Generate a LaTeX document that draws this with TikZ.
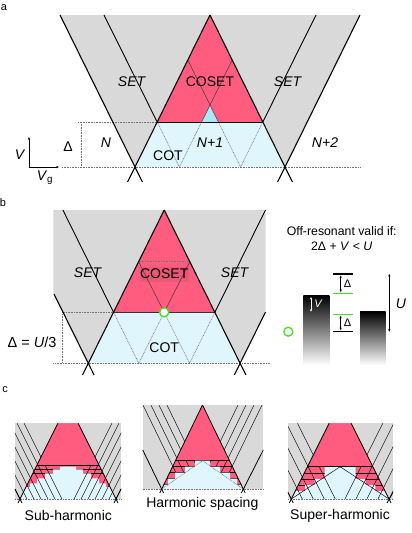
\documentclass[tikz,border=0pt]{standalone}
\usepackage{fontspec}
\setmainfont{Liberation Sans}
\usetikzlibrary{arrows.meta}
\definecolor{cosetred}{RGB}{255,92,128}
\definecolor{cotblue}{RGB}{223,246,253}
\definecolor{tipblue}{RGB}{170,232,248}
\definecolor{setgray}{RGB}{217,217,217}
\definecolor{levgreen}{RGB}{70,225,30}
\begin{document}
\begin{tikzpicture}[x=1pt,y=-1pt,
    lbl/.style={font=\fontsize{14}{16}\selectfont, inner sep=0pt},
    paneltag/.style={font=\fontsize{11}{12}\selectfont, inner sep=0pt},
    smalllbl/.style={font=\fontsize{11}{12}\selectfont, inner sep=0pt},
    bound/.style={line width=1.1pt},
    setline/.style={line width=0.9pt},
    fine/.style={line width=0.45pt, black!80},
    dotline/.style={line width=0.6pt, black!55, dash pattern=on 0.8pt off 0.8pt},
    minibound/.style={line width=0.8pt},
    minifam/.style={line width=0.45pt},
    dbl/.style={{Stealth[length=2.5pt,width=2.2pt]}-{Stealth[length=2.5pt,width=2.2pt]}, line width=0.45pt},
    ring/.style={draw=levgreen, line width=1.3pt, fill=white}
  ]
  \useasboundingbox (0,0) rectangle (412,533);

  % panel a
  \node[paneltag] (taga) at (4,8) {a};
  \coordinate (aA) at (210,15);
  \coordinate (aL) at (135,167);
  \coordinate (aR) at (285,167);
  \coordinate (aP) at (157.2,122);
  \coordinate (aQ) at (262.8,122);
  \fill[setgray] (60,15) -- (360,15) -- (aR) -- (aL) -- cycle;
  \fill[cosetred] (aP) -- (aQ) -- (aA) -- cycle;
  \fill[cotblue] (aL) -- (aR) -- (aQ) -- (aP) -- cycle;
  \fill[tipblue] (201.6,122) -- (218.4,122) -- (210,105) -- cycle;
  \draw[fine] (187.8,60) -- (218.4,122);
  \draw[fine] (232.2,60) -- (201.6,122);
  \draw[dotline] (aP) -- (179.4,167) -- (201.6,122);
  \draw[dotline] (218.4,122) -- (240.6,167) -- (aQ);
  \draw[dotline] (78,122) -- (aP);
  \draw[dotline] (81.7,122) -- (81.7,167);
  \draw[dotline] (62,167) -- (360,167);
  \draw[setline] (aP) -- (aQ);
  \draw[setline] (104,15) -- (aP);
  \draw[setline] (316,15) -- (aQ);
  \draw[bound] (60,15) -- (142.4,182);
  \draw[bound] (360,15) -- (277.6,182);
  \draw[bound] (aA) -- (127.6,182);
  \draw[bound] (aA) -- (292.4,182);
  \coordinate (ax0) at (29,167);
  \draw[-{Stealth[length=3pt,width=2.4pt]}, line width=0.5pt] (ax0) -- (29,137);
  \draw[-{Stealth[length=3pt,width=2.4pt]}, line width=0.5pt] (ax0) -- (59,167);
  \node[lbl] (axV) at (20,155) {\textit{V}};
  \node[lbl] (axVg) at (45,178) {\textit{V}\textsubscript{g}};
  \node[lbl] (deltaa) at (68,147) {Δ};
  \node[lbl] (setaL) at (132,82) {\textit{SET}};
  \node[lbl] (setaR) at (288,82) {\textit{SET}};
  \node[lbl] (coseta) at (210,82) {COSET};
  \node[lbl] (Na) at (106,143) {\textit{N}};
  \node[lbl] (N1a) at (210,143) {\textit{N+1}};
  \node[lbl] (N2a) at (325,143) {\textit{N+2}};
  \node[lbl] (cota) at (168,156) {COT};

  % panel b
  \node[paneltag] (tagb) at (3,203) {b};
  \coordinate (bA) at (164.2,210);
  \coordinate (bL) at (88.3,363.3);
  \coordinate (bR) at (240.1,363.3);
  \coordinate (bP) at (113.55,312.3);
  \coordinate (bQ) at (214.85,312.3);
  \coordinate (bM) at (164.2,312.3);
  \fill[setgray] (53.3,210) -- (265.7,210) -- (265.7,312.3) -- (bR) -- (bL) -- (53.3,294) -- cycle;
  \fill[cosetred] (bP) -- (bQ) -- (bA) -- cycle;
  \fill[cotblue] (bL) -- (bR) -- (bQ) -- (bP) -- cycle;
  \fill[cosetred!93!black] (140,266.5) rectangle (188.5,282);
  \draw[fine] (138.6,261.7) -- (bM);
  \draw[fine] (189.8,261.7) -- (bM);
  \draw[dotline] (138.6,261.7) -- (189.8,261.7);
  \draw[dotline] (bP) -- (138.8,363.3) -- (bM) -- (189.6,363.3) -- (bQ);
  \draw[dotline] (62.7,312.3) -- (bP);
  \draw[dotline] (62.7,312.3) -- (62.7,363.3);
  \draw[dotline] (53.3,363.3) -- (270,363.3);
  \draw[setline, black!80] (bP) -- (bQ);
  \draw[setline] (62.9,210) -- (bP);
  \draw[setline] (265.5,210) -- (bQ);
  \draw[bound] (54,294) -- (94.1,375);
  \draw[bound] (265.4,312.3) -- (234.3,375);
  \draw[bound] (bA) -- (82.5,375);
  \draw[bound] (bA) -- (245.9,375);
  \draw[ring] (bM) circle (4.5pt);
  \node[lbl] (setbL) at (88,273) {\textit{SET}};
  \node[lbl] (setbR) at (235,273) {\textit{SET}};
  \node[lbl] (cosetb) at (164.2,274) {COSET};
  \node[lbl] (cotb) at (164.2,348) {COT};
  \node[lbl, font=\fontsize{14.5}{16}\selectfont] (deltab) at (32,342) {Δ = \textit{U}/3};
  \node[lbl, font=\fontsize{12.3}{14}\selectfont] (offres) at (341.7,230.7) {Off-resonant valid if:};
  \node[lbl, font=\fontsize{12.3}{14}\selectfont] (cond) at (341.7,246.7) {2Δ + \textit{V} < \textit{U}};

  % energy levels
  \draw[ring] (288.3,331.7) circle (4.5pt);
  \shade[top color=black, bottom color=white] (303.3,295) rectangle (329.3,365);
  \shade[top color=black, bottom color=white] (360,311.7) rectangle (385.7,365);
  \coordinate (lev1) at (333.3,274);
  \coordinate (lev2) at (333.3,293.3);
  \coordinate (lev3) at (333.3,314.3);
  \coordinate (lev4) at (333.3,331.7);
  \draw[line width=1.3pt] (lev1) -- ++(20,0);
  \draw[levgreen, line width=1.1pt] (lev2) -- ++(20,0);
  \draw[levgreen, line width=1.1pt] (lev3) -- ++(20,0);
  \draw[line width=1.3pt] (lev4) -- ++(20,0);
  \draw[dbl] (340.7,275.5) -- (340.7,292);
  \draw[dbl] (340.7,315.8) -- (340.7,330.2);
  \node[smalllbl] (delta1) at (347.5,284) {Δ};
  \node[smalllbl] (delta2) at (347.5,323) {Δ};
  \draw[dbl, white] (311,297) -- (311,311.7);
  \node[smalllbl, white] (vbar) at (318.5,303.3) {\textit{V}};
  \draw[dbl] (389.3,274) -- (389.3,331.7);
  \node[lbl] (ulbl) at (401,303.3) {\textit{U}};

  % panel c
  \node[paneltag] (tagc) at (5,390) {c};

  % sub-harmonic
  \fill[setgray] (15,423.3) rectangle (121,499);
  \fill[cosetred] (20,499) -- (116,499) -- (78.15,423.3) -- (57.85,423.3) -- cycle;
  \foreach \y in {465,469.3,473.3}
    \draw[minifam] ({20+(499-\y)*0.5},\y) -- ({116-(499-\y)*0.5},\y);
  \fill[cotblue] (20,499) -- (26,487) -- (30,487) -- (30,483.3) -- (37,483.3) -- (37,478.3) -- (45,478.3) -- (45,473.3) -- (53,473.3) -- (53,469.3) -- (60,469.3) -- (60,466.7) -- (76,466.7) -- (76,469.3) -- (83,469.3) -- (83,473.3) -- (91,473.3) -- (91,478.3) -- (99,478.3) -- (99,483.3) -- (106,483.3) -- (106,487) -- (110,487) -- (116,499) -- cycle;
  \begin{scope}
    \clip (15,423.3) rectangle (121,499);
    \foreach \x in {-17.9,-10.9,-3.9,3.1,10.1,17.1,24.1} {
      \draw[minifam] (\x,423.3) -- ++(37.85,75.7);
      \draw[minifam] ({136-\x},423.3) -- ++(-37.85,75.7);
    }
  \end{scope}
  \fill[cosetred] (37,465) -- (99,465) -- (78.15,423.3) -- (57.85,423.3) -- cycle;
  \draw[minifam] (37,465) -- (99,465);
  \draw[dotline] (15,499) -- (121,499);
  \draw[minibound] (57.85,423.3) -- (18,503);
  \draw[minibound] (78.15,423.3) -- (118,503);
  \draw[minibound] (15,489) -- (22,503);
  \draw[minibound] (121,489) -- (114,503);
  \node[lbl] (subh) at (68.3,515.7) {Sub-harmonic};

  % harmonic spacing
  \fill[setgray] (142.7,405) rectangle (263.3,489);
  \fill[cosetred] (161.7,489) -- (243.3,489) -- (202.5,405) -- cycle;
  \begin{scope}
    \clip (142.7,405) rectangle (263.3,489);
    \foreach \x in {143,151,159,167} {
      \draw[minifam] (\x,405) -- ++(42.5,87.5);
      \draw[minifam] ({405-\x},405) -- ++(-42.5,87.5);
    }
  \end{scope}
  \fill[cosetred] (175.4,460.7) -- (229.6,460.7) -- (202.5,405) -- cycle;
  \foreach \y in {460.7,466.7,472.7,478.7,484.7}
    \draw[minifam] ({161.7+(489-\y)*0.4857},\y) -- ({243.3-(489-\y)*0.4857},\y);
  \fill[cotblue] (161.7,489) -- (163.8,484.7) -- (168,484.7) -- (168,478.7) -- (175,478.7) -- (175,472.7) -- (185,472.7) -- (185,466.7) -- (195,466.7) -- (195,460.7) -- (210,460.7) -- (210,466.7) -- (220,466.7) -- (220,472.7) -- (230,472.7) -- (230,478.7) -- (237,478.7) -- (237,484.7) -- (241.2,484.7) -- (243.3,489) -- cycle;
  \draw[dotline] (161.7,489) -- (202.5,460.7) -- (243.3,489);
  \draw[dotline] (142.7,489) -- (263.3,489);
  \draw[minibound] (202.5,405) -- (159.8,493);
  \draw[minibound] (202.5,405) -- (245.2,493);
  \draw[minibound] (142.7,449.9) -- (163.6,493);
  \draw[minibound] (263.3,449.9) -- (241.4,493);
  \node[lbl] (harm) at (202.3,504) {Harmonic spacing};

  % super-harmonic
  \fill[setgray] (288,423.3) rectangle (393,499);
  \fill[cosetred] (291.3,499) -- (389,499) -- (351.15,423.3) -- (329.15,423.3) -- cycle;
  \foreach \y in {466.7,473,479,485}
    \draw[minifam] ({291.3+(499-\y)*0.5},\y) -- ({389-(499-\y)*0.5},\y);
  \fill[cotblue] (291.3,499) -- (295.3,491) -- (305,491) -- (305,485) -- (314.7,485) -- (314.7,479) -- (324.7,479) -- (324.7,466.7) -- (355.6,466.7) -- (355.6,479) -- (365.6,479) -- (365.6,485) -- (375.3,485) -- (375.3,491) -- (385,491) -- (389,499) -- cycle;
  \begin{scope}
    \clip (288,423.3) rectangle (393,499);
    \foreach \x in {253.45,264.5,275.5,286.5,297.5} {
      \draw[minifam] (\x,423.3) -- ++(37.85,75.7);
      \draw[minifam] ({680.3-\x},423.3) -- ++(-37.85,75.7);
    }
    \draw[minifam] (291.3,499) -- (340.15,466.7) -- (389,499);
  \end{scope}
  \fill[cosetred] (307.45,466.7) -- (372.85,466.7) -- (351.15,423.3) -- (329.15,423.3) -- cycle;
  \draw[minifam] (307.45,466.7) -- (372.85,466.7);
  \fill (340.15,466.7) circle (0.9pt);
  \draw[dotline] (288,499) -- (393,499);
  \draw[minibound] (329.15,423.3) -- (289.3,503);
  \draw[minibound] (351.15,423.3) -- (391,503);
  \draw[minibound] (288,492.4) -- (293.3,503);
  \draw[minibound] (393,492.4) -- (387,503);
  \node[lbl] (superh) at (340,515.7) {Super-harmonic};
\end{tikzpicture}
\end{document}
